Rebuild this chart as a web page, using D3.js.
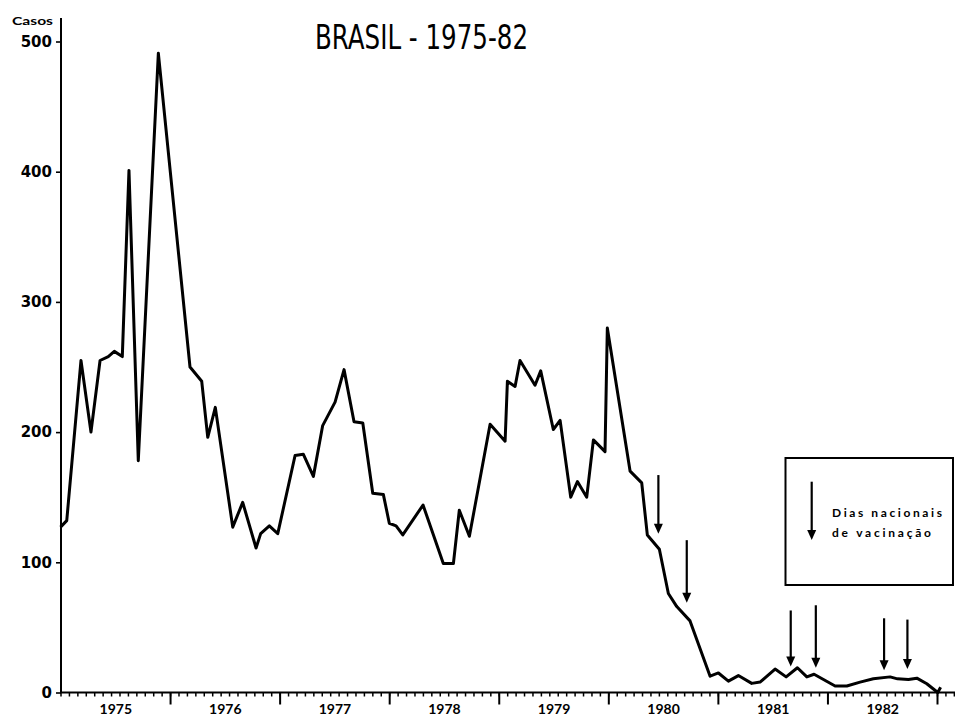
<!DOCTYPE html>
<html>
<head>
<meta charset="utf-8">
<script src="https://cdn.jsdelivr.net/npm/d3@7"></script>
<style>
  body { margin: 0; background: #fff; }
  svg { display: block; }
  text { font-family: Lato, "DejaVu Sans", sans-serif; font-weight: 700; fill: #000; }
</style>
</head>
<body>
<svg id="chart" width="955" height="718"></svg>
<script>
// Time of each point in decimal years (1975.0 = start of January 1975)
const periodos = [
  1975.000, 1975.057, 1975.187, 1975.278, 1975.361, 1975.436, 1975.491, 1975.564,
  1975.625, 1975.710, 1975.893, 1976.182, 1976.289, 1976.344, 1976.413, 1976.572,
  1976.663, 1976.785, 1976.827, 1976.906, 1976.983, 1977.141, 1977.216, 1977.308,
  1977.393, 1977.506, 1977.588, 1977.679, 1977.759, 1977.850, 1977.947, 1978.001,
  1978.063, 1978.124, 1978.309, 1978.494, 1978.586, 1978.640, 1978.732, 1978.921,
  1979.058, 1979.079, 1979.149, 1979.194, 1979.331, 1979.383, 1979.498, 1979.560,
  1979.657, 1979.718, 1979.803, 1979.864, 1979.970, 1979.991, 1980.199, 1980.305,
  1980.356, 1980.466, 1980.548, 1980.625, 1980.746, 1980.929, 1981.005, 1981.096,
  1981.187, 1981.309, 1981.385, 1981.522, 1981.623, 1981.726, 1981.812, 1981.878,
  1982.070, 1982.177, 1982.298, 1982.419, 1982.572, 1982.639, 1982.739, 1982.816,
  1982.907, 1983.007, 1983.033
];

// Number of cases
const casos = [
  127, 132, 255, 200, 255, 258, 262, 258,
  401, 178, 491, 250, 239, 196, 219, 127,
  146, 111, 122, 128, 122, 182, 183, 166,
  205, 223, 248, 208, 207, 153, 152, 130,
  128, 121, 144, 99, 99, 140, 120, 206,
  193, 239, 235, 255, 236, 247, 202, 209,
  150, 162, 150, 194, 185, 280, 170, 161,
  121, 110, 76, 66, 55, 12.5, 15, 8.7,
  13, 7, 8, 18, 12, 19, 12, 14,
  5, 5, 8, 10.5, 12, 10.5, 10, 11,
  6.7, 0, 4
];

// National vaccination days (arrows): date, arrow start and tip in cases
const diasVacinacao = [1980.457, 1980.716, 1981.665, 1981.894, 1982.517, 1982.730];
const setaInicio = [167, 117, 63, 67, 57, 56];
const setaFim = [122, 69, 20, 19, 17, 18];

const anos = [1975, 1976, 1977, 1978, 1979, 1980, 1981, 1982];
const yTicks = [0, 100, 200, 300, 400, 500];
const titulo = "BRASIL - 1975-82";
const rotuloY = "Casos";
const legenda = ["Dias nacionais", "de vacinação"];

const svg = d3.select("#chart");

const x = d3.scaleLinear().domain([1975, 1983]).range([60.5, 937]);
const y = d3.scaleLinear().domain([0, 500]).range([692.5, 41.5]);

// Y axis
const yAxis = svg.append("g")
  .attr("transform", "translate(61,0)")
  .call(d3.axisLeft(y).tickValues(yTicks).tickSize(5).tickPadding(4));
yAxis.select(".domain").remove();
yAxis.selectAll("line").attr("stroke", "#000").attr("stroke-width", 1.6);
yAxis.selectAll("text").attr("font-size", 15).style("font-family", "'DejaVu Sans', sans-serif");
svg.append("line")
  .attr("x1", 61).attr("x2", 61)
  .attr("y1", 18).attr("y2", y(0))
  .attr("stroke", "#000").attr("stroke-width", 2);

svg.append("text")
  .attr("x", 12).attr("y", 25)
  .attr("font-size", 11)
  .attr("textLength", 41)
  .attr("lengthAdjust", "spacingAndGlyphs")
  .text(rotuloY);

// X axis: 4-week periods, year boundaries and year labels
const minor = d3.range(0, 8 * 13 + 3).map(i => 1975 + i / 13);
const gMinor = svg.append("g")
  .attr("transform", `translate(0,${y(0)})`)
  .call(d3.axisBottom(x).tickValues(minor).tickSize(4).tickFormat(""));
gMinor.select(".domain").remove();
gMinor.selectAll("line").attr("stroke", "#000").attr("stroke-width", 1.5);

const gMajor = svg.append("g")
  .attr("transform", `translate(0,${y(0)})`)
  .call(d3.axisBottom(x).tickValues(anos.map(a => a + 1)).tickSize(12).tickFormat(""));
gMajor.select(".domain").remove();
gMajor.selectAll("line").attr("stroke", "#000").attr("stroke-width", 2);

const gYears = svg.append("g")
  .attr("transform", `translate(0,${y(0)})`)
  .call(d3.axisBottom(x).tickValues(anos.map(a => a + 0.5)).tickSize(0).tickPadding(12)
    .tickFormat((d, i) => anos[i]));
gYears.select(".domain").remove();
gYears.selectAll("text").attr("font-size", 14);

svg.append("line")
  .attr("x1", 60).attr("x2", 955)
  .attr("y1", y(0)).attr("y2", y(0))
  .attr("stroke", "#000").attr("stroke-width", 2);

// Case curve
const pontos = periodos.map((p, i) => [p, casos[i]]);
svg.append("path")
  .datum(pontos)
  .attr("fill", "none")
  .attr("stroke", "#000")
  .attr("stroke-width", 3)
  .attr("stroke-linejoin", "round")
  .attr("d", d3.line().x(d => x(d[0])).y(d => y(d[1])));

// Arrows
function seta(g, cx, y1, y2) {
  g.append("line")
    .attr("x1", cx).attr("x2", cx)
    .attr("y1", y1).attr("y2", y2 - 6)
    .attr("stroke", "#000").attr("stroke-width", 2.2);
  g.append("path")
    .attr("d", `M${cx - 4.5},${y2 - 10}L${cx + 4.5},${y2 - 10}L${cx},${y2}Z`)
    .attr("fill", "#000");
}

const gSetas = svg.append("g");
diasVacinacao.forEach((d, i) => seta(gSetas, x(d), y(setaInicio[i]), y(setaFim[i])));

// Title
svg.append("text")
  .attr("x", 315).attr("y", 49)
  .attr("font-size", 33)
  .attr("textLength", 213)
  .attr("lengthAdjust", "spacingAndGlyphs")
  .style("font-family", "'DejaVu Sans Condensed', 'Liberation Sans Narrow', sans-serif")
  .style("font-weight", 400)
  .text(titulo);

// Legend
const gLeg = svg.append("g");
gLeg.append("rect")
  .attr("x", 785.5).attr("y", 458)
  .attr("width", 167.5).attr("height", 127)
  .attr("fill", "none").attr("stroke", "#000").attr("stroke-width", 2);
seta(gLeg, 811.7, 481.7, 540);
gLeg.selectAll("text.leg")
  .data(legenda)
  .join("text")
  .attr("class", "leg")
  .attr("x", 832)
  .attr("y", (d, i) => 517 + i * 20)
  .attr("font-size", 12)
  .attr("textLength", (d, i) => i === 0 ? 110 : 99)
  .attr("lengthAdjust", "spacing")
  .text(d => d);
</script>
</body>
</html>
